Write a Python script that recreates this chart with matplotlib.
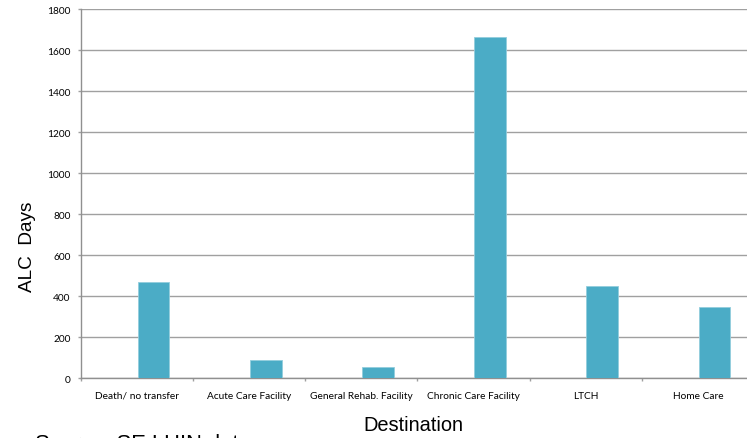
import matplotlib
matplotlib.use("Agg")
import matplotlib.pyplot as plt
import numpy as np

categories = ["Death/ no transfer", "Acute Care Facility", "General Rehab. Facility",
              "Chronic Care Facility", "LTCH", "Home Care"]
alc_days = [468, 88, 55, 1665, 450, 348]
y_ticks = [0, 200, 400, 600, 800, 1000, 1200, 1400, 1600, 1800]

W, H = 747, 439
fig = plt.figure(figsize=(W / 100, H / 100), dpi=100)
left, right, bottom, top = 81, 754, 379.3, 10.3
ax = fig.add_axes([left / W, 1 - bottom / H, (right - left) / W, (bottom - top) / H])

x = np.arange(len(categories))
ax.bar(x + 0.5 + 0.147, alc_days, width=0.282, color="#4BACC6",
       edgecolor="#93CDDD", linewidth=0.6, zorder=3)

ax.set_xlim(0, len(categories))
ax.set_ylim(0, 1800)
ax.set_yticks(y_ticks)
ax.set_yticklabels([str(t) for t in y_ticks], family="Lato", fontsize=7.3)
ax.yaxis.grid(True, color="#A0A0A0", linewidth=1.0, zorder=0)
ax.set_axisbelow(True)

ax.set_xticks(np.arange(len(categories) + 1))
ax.set_xticklabels([])
ax.set_xticks(x + 0.5, minor=True)
ax.set_xticklabels(categories, minor=True, family="Lato", fontsize=7.3)
ax.tick_params(axis="x", which="minor", length=0, pad=9)
ax.tick_params(axis="x", which="major", length=2.5, color="#A0A0A0", width=1)
ax.tick_params(axis="y", length=2.5, color="#A0A0A0", width=1, pad=5)

for s in ["top", "right"]:
    ax.spines[s].set_visible(False)
for s in ["left", "bottom"]:
    ax.spines[s].set_color("#909090")
    ax.spines[s].set_linewidth(1)

fig.text(27 / W, 1 - 247 / H, "ALC  Days", rotation=90, ha="center", va="center",
         family="Liberation Sans", fontsize=13.7)
fig.text(413 / W, 1 - 426 / H, "Destination", ha="center", va="center",
         family="Liberation Sans", fontsize=14.4)
fig.text(35 / W, 1 - 434 / H, "Source: SE LHIN data", ha="left", va="top",
         family="Liberation Sans", fontsize=15.8)

fig.savefig("out.png", dpi=100)
